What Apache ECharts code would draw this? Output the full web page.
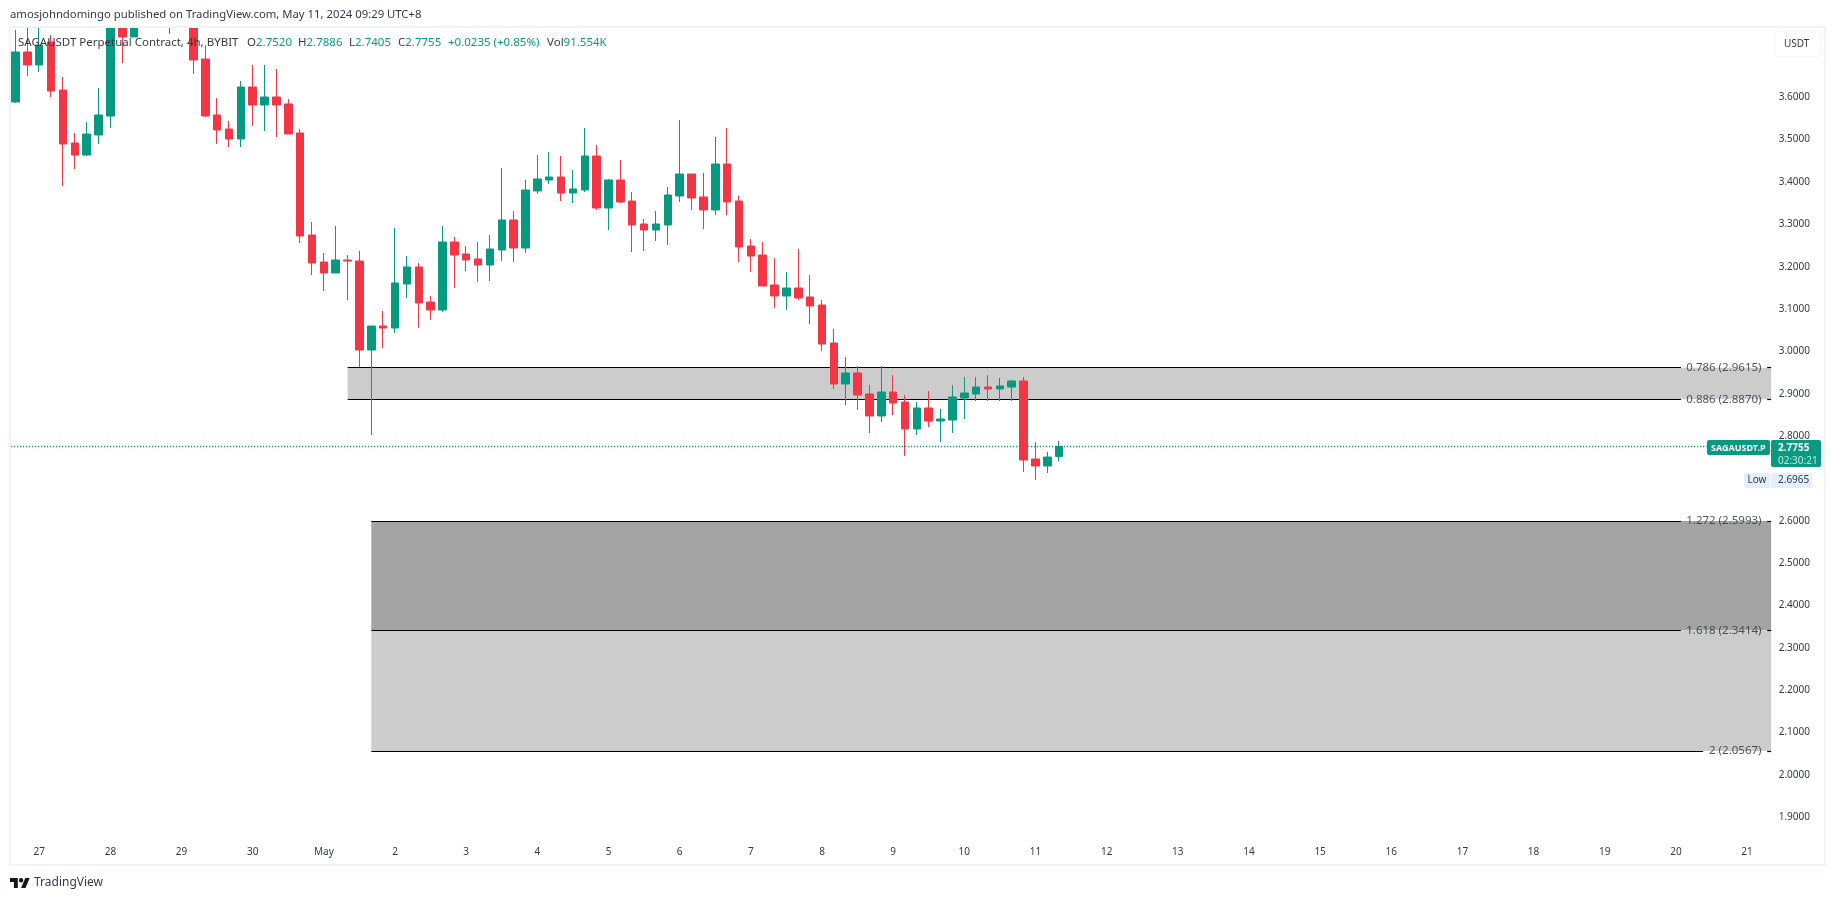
<!DOCTYPE html>
<html>
<head>
<meta charset="utf-8">
<title>SAGAUSDT</title>
<style>
html,body{margin:0;padding:0;background:#fff;}
#chart{width:1835px;height:901px;}
</style>
<script src="https://cdn.jsdelivr.net/npm/echarts@6/dist/echarts.min.js"></script>
</head>
<body>
<div id="chart"></div>
<script>
// candle values, index 0 is the first 4h bar on the left
// bars 8-15 run off the top of the pane so their upper parts are guesses
var opens = [3.5889,3.7070,3.6763,3.7306,3.6172,3.4921,3.4637,3.5110,3.5558,3.8100,
    3.7424,3.8000,3.8400,3.8600,3.8000,3.8200,3.6904,3.5582,3.5251,3.5015,
    3.6243,3.5818,3.6007,3.5842,3.5157,3.2748,3.2111,3.1851,3.2158,3.2134,
    3.0033,3.0599,3.0552,3.1591,3.1993,3.1166,3.0978,3.2583,3.2300,3.2182,
    3.2040,3.2394,3.3103,3.2441,3.3788,3.4047,3.4118,3.3740,3.3811,3.4614,
    3.3386,3.4047,3.3551,3.3008,3.2866,3.2985,3.3669,3.4189,3.3646,3.3339,
    3.4425,3.3551,3.2489,3.2276,3.1568,3.1308,3.1497,3.1285,3.1095,3.0198,
    2.9230,2.9490,2.8994,2.8475,2.9041,2.8805,2.8168,2.8664,2.8356,2.8380,
    2.8900,2.8994,2.9159,2.9112,2.9159,2.9301,2.7459,2.7294,2.7520];
var closes = [3.7070,3.6763,3.7235,3.6149,3.4897,3.4637,3.5133,3.5582,3.8200,3.7424,
    3.8000,3.8400,3.7900,3.8000,3.8500,3.6881,3.5558,3.5228,3.5015,3.6243,
    3.5818,3.6007,3.5818,3.5133,3.2725,3.2087,3.1851,3.2158,3.2134,3.0033,
    3.0599,3.0552,3.1615,3.1993,3.1143,3.0978,3.2583,3.2276,3.2158,3.2040,
    3.2418,3.3103,3.2441,3.3811,3.4071,3.4118,3.3740,3.3835,3.4614,3.3386,
    3.4047,3.3528,3.2985,3.2866,3.3008,3.3693,3.4189,3.3622,3.3339,3.4425,
    3.3528,3.2465,3.2252,3.1544,3.1308,3.1497,3.1261,3.1072,3.0174,2.9230,
    2.9490,2.8970,2.8475,2.9041,2.8782,2.8168,2.8664,2.8356,2.8404,2.8923,
    2.9018,2.9159,2.9112,2.9183,2.9301,2.7436,2.7294,2.7506,2.7755];
var lows = [3.5865,3.6503,3.6597,3.6007,3.3906,3.4307,3.4614,3.4897,3.5275,3.6810,
    3.7424,3.7800,3.7700,3.7495,3.7800,3.6550,3.5535,3.4897,3.4826,3.4826,
    3.5322,3.5204,3.5062,3.5133,3.2559,3.1804,3.1426,3.1851,3.1214,2.9631,
    2.8026,3.0080,3.0434,3.1261,3.0552,3.0741,3.0930,3.1497,3.1898,3.1639,
    3.1662,3.2134,3.2111,3.2323,3.3717,3.3953,3.3551,3.3504,3.3764,3.3339,
    3.2866,3.3504,3.2347,3.2370,3.2607,3.2512,3.3528,3.3339,3.2890,3.3221,
    3.3221,3.2111,3.1875,3.1544,3.1025,3.0978,3.1214,3.0647,3.0009,2.9112,
    2.8734,2.8616,2.8073,2.8333,2.8498,2.7530,2.8026,2.8215,2.7861,2.8073,
    2.8404,2.8829,2.8829,2.8829,2.8829,2.7152,2.6963,2.7129,2.7405];
var highs = [3.7589,3.7825,3.7825,3.7471,3.6479,3.5157,3.5417,3.6220,3.8500,3.8500,
    3.8200,3.8700,3.8600,3.8800,3.8800,3.8400,3.7235,3.5983,3.5440,3.6385,
    3.6763,3.6763,3.6668,3.5960,3.5251,3.3055,3.2323,3.2961,3.2276,3.2370,
    3.0599,3.0954,3.2914,3.2252,3.2087,3.1308,3.2961,3.2701,3.2489,3.2583,
    3.2748,3.4331,3.3315,3.4047,3.4637,3.4708,3.4614,3.4283,3.5275,3.4874,
    3.4071,3.4519,3.3764,3.3126,3.3315,3.3882,3.5464,3.4189,3.4213,3.5062,
    3.5275,3.3669,3.2654,3.2583,3.2205,3.1875,3.2418,3.1804,3.1214,3.0529,
    2.9868,2.9655,2.9206,2.9655,2.9442,2.8970,2.8805,2.9065,2.8640,2.9206,
    2.9395,2.9395,2.9442,2.9372,2.9324,2.9395,2.7861,2.7625,2.7886];

var dayLabels = ['27','28','29','30','May','2','3','4','5','6','7','8','9','10','11','12','13','14','15','16','17','18','19','20','21'];
var priceTicks = [1.9,2.0,2.1,2.2,2.3,2.4,2.5,2.6,2.7,2.8,2.9,3.0,3.1,3.2,3.3,3.4,3.5,3.6];

var levelRatios = ['0.786','0.886','1.272','1.618','2'];
var levelPrices = [2.9615,2.8870,2.5993,2.3414,2.0567];
var levelStarts = [28,28,30,30,30];
var lastPrice = 2.7755;
var dayLow = 2.6965;

var GREEN = '#089981', RED = '#F23645', TEXT = '#363a45';
var FONT = '"Noto Sans", sans-serif';
var SLOTS = 149;

// one slot per 4h bar, future slots stay empty. day label every 6 bars
var categories = [];
for (var s = 0; s < SLOTS; s++) categories.push('');
for (var d = 0; d < dayLabels.length; d++) categories[2 + d * 6] = dayLabels[d];

var candles = [];
for (var i = 0; i < opens.length; i++) candles.push([opens[i], closes[i], lows[i], highs[i]]);

// fib level lines have a gap where the label sits, plus a short stub after it
var gapStarts = [140.43,140.43,140.43,140.43,142.3];
var paneEnd = 148.03;
var levelLines = [], levelLabels = [];
for (var k = 0; k < levelPrices.length; k++) {
    levelLines.push([{xAxis: levelStarts[k], yAxis: levelPrices[k]}, {xAxis: gapStarts[k], yAxis: levelPrices[k]}]);
    levelLines.push([{xAxis: 147.7, yAxis: levelPrices[k]}, {xAxis: paneEnd, yAxis: levelPrices[k]}]);
    levelLabels.push({
        value: [147.26, levelPrices[k]],
        label: {formatter: levelRatios[k] + ' (' + levelPrices[k].toFixed(4) + ')'}
    });
}
var zones = [
    [{xAxis: levelStarts[0], yAxis: levelPrices[0], itemStyle: {color: '#cccccc'}}, {xAxis: paneEnd, yAxis: levelPrices[1]}],
    [{xAxis: levelStarts[2], yAxis: levelPrices[2], itemStyle: {color: '#a3a3a3'}}, {xAxis: paneEnd, yAxis: levelPrices[3]}],
    [{xAxis: levelStarts[3], yAxis: levelPrices[3], itemStyle: {color: '#cccccc'}}, {xAxis: paneEnd, yAxis: levelPrices[4]}]
];

var myChart = echarts.init(document.getElementById('chart'));

var option = {
    animation: false,
    backgroundColor: '#ffffff',
    textStyle: {fontFamily: FONT},
    grid: {left: 9.6, top: 28, width: 1767.1, height: 812, containLabel: false},
    xAxis: [
        {
            type: 'category',
            data: categories,
            boundaryGap: true,
            axisLine: {show: false},
            axisTick: {show: false},
            splitLine: {show: false},
            axisLabel: {
                interval: function (idx, val) { return val !== ''; },
                color: TEXT,
                fontFamily: FONT,
                fontSize: 10,
                margin: 7
            }
        },
        {type: 'value', show: false, min: -0.5, max: SLOTS - 0.5, splitLine: {show: false}}
    ],
    yAxis: {
        type: 'value',
        position: 'right',
        scale: true,
        min: 1.8463,
        max: 3.7636,
        axisLine: {show: false},
        axisTick: {show: false},
        splitLine: {show: false},
        axisLabel: {
            customValues: priceTicks,
            formatter: function (v) { return v.toFixed(4); },
            color: TEXT,
            fontFamily: FONT,
            fontSize: 10,
            margin: 2,
            padding: [2, 0, 0, 0]
        }
    },
    series: [
        {
            name: 'levels',
            type: 'scatter',
            xAxisIndex: 1,
            yAxisIndex: 0,
            symbolSize: 1,
            itemStyle: {color: 'rgba(0,0,0,0)'},
            silent: true,
            z: 3,
            data: levelLabels,
            label: {
                show: true,
                position: 'left',
                distance: 0,
                color: '#2a2e39',
                fontFamily: FONT,
                fontSize: 11.5
            },
            markArea: {silent: true, z: 1, data: zones},
            markLine: {
                silent: true,
                z: 2,
                symbol: 'none',
                label: {show: false},
                lineStyle: {color: '#000000', width: 1.2, type: 'solid'},
                data: levelLines
            }
        },
        {
            name: 'last',
            type: 'line',
            xAxisIndex: 1,
            yAxisIndex: 0,
            showSymbol: false,
            silent: true,
            z: 4,
            lineStyle: {color: GREEN, width: 1.4, type: [1.2, 1.8]},
            data: [[-0.38, lastPrice], [142.6, lastPrice]]
        },
        {
            name: 'SAGAUSDT.P',
            type: 'candlestick',
            xAxisIndex: 0,
            yAxisIndex: 0,
            barWidth: 8,
            z: 10,
            itemStyle: {
                color: GREEN,
                color0: RED,
                borderColor: GREEN,
                borderColor0: RED,
                borderWidth: 1
            },
            data: candles
        }
    ]
};
myChart.setOption(option);

function tag(x, y, w, h, fill) {
    return {type: 'rect', z: 50, shape: {x: x, y: y, width: w, height: h, r: 2}, style: {fill: fill}};
}
function txt(x, y, str, size, color, extra) {
    var st = {x: x, y: y, text: str, fontSize: size, fontFamily: FONT, fill: color, textVerticalAlign: 'middle'};
    for (var e in extra) st[e] = extra[e];
    return {type: 'text', z: 51, style: st};
}
// legend entry: dark prefix then green value
function legendPair(x, name, value) {
    return {
        type: 'text', z: 51,
        style: {
            x: x, y: 42.5, textVerticalAlign: 'middle', fontFamily: FONT, fontSize: 11.5,
            text: '{d|' + name + '}{g|' + value + '}',
            rich: {
                d: {fill: TEXT, fontSize: 11.5, fontFamily: FONT},
                g: {fill: GREEN, fontSize: 11.5, fontFamily: FONT}
            }
        }
    };
}

var lastY = myChart.convertToPixel({yAxisIndex: 0}, lastPrice);
var lowY = myChart.convertToPixel({yAxisIndex: 0}, dayLow);

myChart.setOption({
    graphic: [
        // candlesticks are not cut at the pane edge, hide what sticks out on top
        {type: 'rect', z: 30, shape: {x: 0, y: 0, width: 1835, height: 27}, style: {fill: '#ffffff'}},
        // pane frame
        {type: 'rect', z: 40, shape: {x: 10, y: 27, width: 1815, height: 838}, style: {fill: 'none', stroke: '#f0f3fa', lineWidth: 2}},
        txt(10, 15, 'amosjohndomingo published on TradingView.com, May 11, 2024 09:29 UTC+8', 11.3, TEXT),
        txt(18, 42.5, 'SAGAUSDT Perpetual Contract, 4h, BYBIT', 11.5, TEXT),
        legendPair(247, 'O', '2.7520'),
        legendPair(298, 'H', '2.7886'),
        legendPair(349, 'L', '2.7405'),
        legendPair(398, 'C', '2.7755'),
        legendPair(448, '', '+0.0235 (+0.85%)'),
        legendPair(547, 'Vol', '91.554K'),
        // currency button
        {type: 'rect', z: 50, shape: {x: 1775, y: 31, width: 46, height: 26, r: 4}, style: {fill: '#ffffff', stroke: '#f0f3fa', lineWidth: 1}},
        txt(1784, 44, 'USDT', 10, TEXT),
        // last price tags
        tag(1707, lastY - 6.5, 63, 15, GREEN),
        txt(1711, lastY + 1.5, 'SAGAUSDT.P', 9, '#ffffff', {fontWeight: 'bold'}),
        tag(1771, lastY - 6.5, 50, 27, GREEN),
        txt(1778, lastY + 1.5, '2.7755', 10, '#ffffff', {fontWeight: 'bold'}),
        txt(1778, lastY + 14.5, '02:30:21', 10, 'rgba(255,255,255,0.75)'),
        // low tags
        tag(1744, lowY - 7, 26, 15, '#e3effd'),
        txt(1747.5, lowY + 0.5, 'Low', 10, TEXT),
        tag(1771, lowY - 7, 41, 15, '#e3effd'),
        txt(1778, lowY + 0.5, '2.6965', 10, TEXT),
        // logo
        {type: 'polygon', z: 51, shape: {points: [[10,878],[17.8,878],[17.8,888],[13.9,888],[13.9,881.9],[10,881.9]]}, style: {fill: '#131722'}},
        {type: 'polygon', z: 51, shape: {points: [[25.3,878],[29.7,878],[25.5,888],[21.1,888]]}, style: {fill: '#131722'}},
        {type: 'circle', z: 51, shape: {cx: 21.1, cy: 880.2, r: 2.2}, style: {fill: '#131722'}},
        txt(34, 883, 'TradingView', 12, TEXT)
    ]
});
</script>
</body>
</html>
